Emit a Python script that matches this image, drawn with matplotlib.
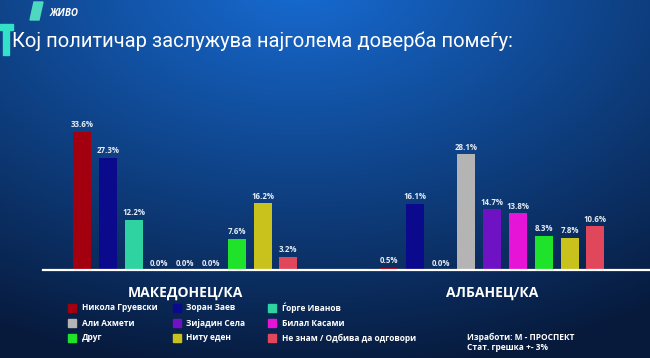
import numpy as np
import matplotlib
matplotlib.use("Agg")
import matplotlib.pyplot as plt
from matplotlib.patches import Polygon, Rectangle

plt.rcParams['font.family'] = ['Open Sans', 'DejaVu Sans']

# ---- data ----
series = ["Никола Груевски", "Зоран Заев", "Ѓорге Иванов",
          "Али Ахмети", "Зијадин Села", "Билал Касами",
          "Друг", "Ниту еден", "Не знам / Одбива да одговори"]
colors = ["#a3000f", "#0b0a8c", "#2fd3a2",
          "#b4b4b4", "#6f12c4", "#e514d6",
          "#1fe22a", "#c9c21d", "#e0475a"]
groups = ["МАКЕДОНЕЦ/КА", "АЛБАНЕЦ/КА"]
macedonian = [33.6, 27.3, 12.2, 0.0, 0.0, 0.0, 7.6, 16.2, 3.2]
albanian = [0.5, 16.1, 0.0, 28.1, 14.7, 13.8, 8.3, 7.8, 10.6]
values = [macedonian, albanian]
group_offsets = [0.0, 11.9]

title = "Кој политичар заслужува најголема доверба помеѓу:"

W, H = 650, 358
fig = plt.figure(figsize=(W / 100, H / 100), dpi=100)

# background gradient
bg = fig.add_axes([0, 0, 1, 1])
yy, xx = np.mgrid[0:H, 0:W]
d = np.sqrt(((xx - 300) / 520.0) ** 2 + ((yy + 20) / 330.0) ** 2)
d = np.clip(d, 0, 1.2) / 1.2
c0 = np.array([0x17, 0x6c, 0xd4]) / 255.0
c1 = np.array([0x07, 0x1a, 0x3c]) / 255.0
img = c0[None, None, :] * (1 - d[..., None]) + c1[None, None, :] * d[..., None]
bg.imshow(img, extent=[0, W, H, 0], aspect='auto')
bg.set_xlim(0, W)
bg.set_ylim(H, 0)
bg.axis('off')

# logo shapes
bg.add_patch(Polygon([[0, 24], [13, 24], [13, 30], [9, 30], [9, 55], [3, 55], [3, 30], [0, 30]],
                     closed=True, color="#35e0c8"))
bg.add_patch(Polygon([[34, 2], [43, 2], [39, 20], [30, 20]], closed=True, color="#4fd8c0"))
bg.text(50, 14, "ЖИВО", color="white", fontsize=7, fontweight='bold', style='italic',
        va='center', ha='left')
bg.text(12, 41, title, color="white", fontsize=14.5, va='center', ha='left',
        family=['Roboto', 'DejaVu Sans'])

# main axes
left_px, right_px, top_px, base_px = 43, 650, 100, 270
ax = fig.add_axes([left_px / W, (H - base_px) / H, (right_px - left_px) / W, (base_px - top_px) / H])
ax.patch.set_alpha(0)
scale_x = 25.8
x0_center = 82
ax.set_xlim(-(x0_center - left_px) / scale_x, (right_px - x0_center) / scale_x)
ax.set_ylim(0, (base_px - top_px) / 4.12)
for s in ax.spines.values():
    s.set_visible(False)
ax.set_xticks([])
ax.set_yticks([])

for g, (vals, off) in enumerate(zip(values, group_offsets)):
    xs = off + np.arange(len(vals))
    ax.bar(xs, vals, width=0.7, color=colors, zorder=2)
    for x, v in zip(xs, vals):
        ax.text(x, v + 0.6, f"{v:.1f}%", ha='center', va='bottom', color="#e6ecf5",
                fontsize=5.7, fontweight='bold')
    ax.text(off + (len(vals) - 1) / 2, -4.0, groups[g], ha='center', va='top',
            color='white', fontsize=10, fontweight='bold')
ax.axhline(0, color='white', lw=1.6, zorder=3, clip_on=False)

# legend
col_x = [68, 173, 268]
row_y = [308, 323, 338]
for i, (name, c) in enumerate(zip(series, colors)):
    r, col = i // 3, i % 3
    bg.add_patch(Rectangle((col_x[col], row_y[r] - 4), 8, 8, color=c))
    bg.text(col_x[col] + 13.5, row_y[r], name, color='white', fontsize=6,
            fontweight='bold', va='center', ha='left')

bg.text(467, 337, "Изработи: М - ПРОСПЕКТ", color='white', fontsize=6,
        fontweight='bold', va='center')
bg.text(467, 348, "Стат. грешка +- 3%", color='white', fontsize=6,
        fontweight='bold', va='center')

fig.savefig("out.png", dpi=100)
